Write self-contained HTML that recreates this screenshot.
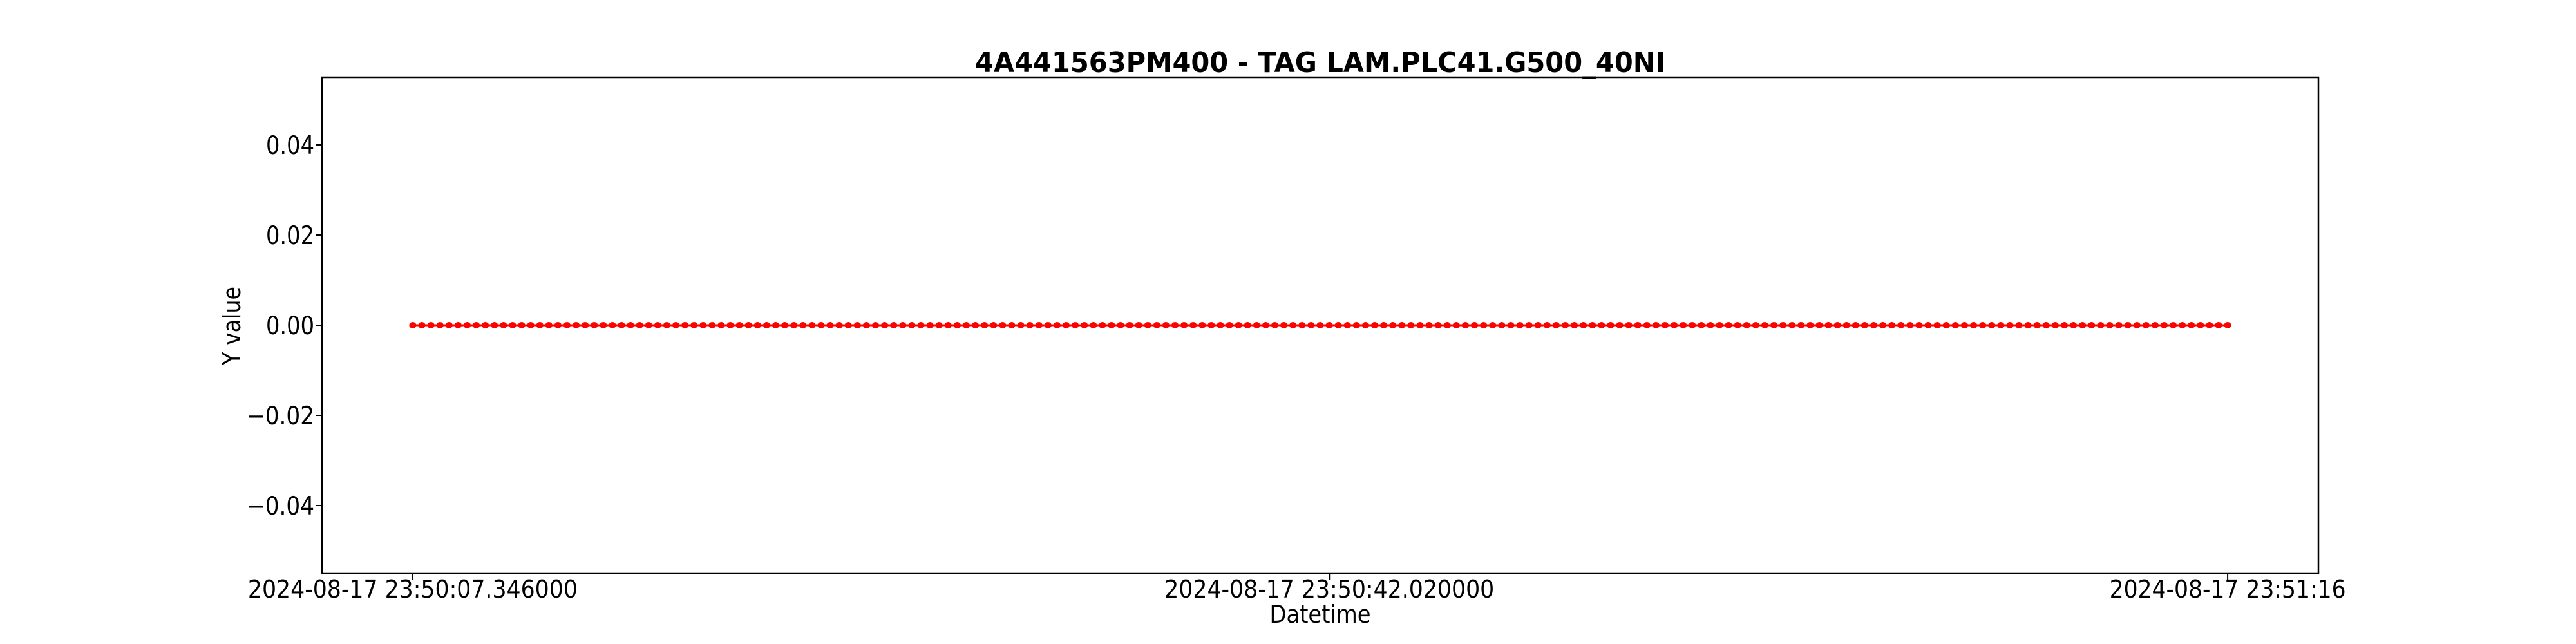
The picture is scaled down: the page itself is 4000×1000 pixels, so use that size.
<!DOCTYPE html>
<html><head><meta charset="utf-8"><style>
html,body{margin:0;padding:0;background:#fff;width:4000px;height:1000px;overflow:hidden}
svg text{font-family:"DejaVu Sans","Liberation Sans",sans-serif;fill:#000}
</style></head><body>
<svg id="chart" width="4000" height="1000" xmlns="http://www.w3.org/2000/svg">
<text x="2050" y="112" font-size="44" font-weight="bold" text-anchor="middle" textLength="1072" lengthAdjust="spacingAndGlyphs">4A441563PM400 - TAG LAM.PLC41.G500_40NI</text>
<g id="plot"></g>
<rect x="500" y="120" width="3100" height="770" fill="none" stroke="#000" stroke-width="2.5"/>
<g id="yticks"></g>
<g id="xticks"></g>
<text x="2050" y="967" font-size="38" text-anchor="middle" textLength="157" lengthAdjust="spacingAndGlyphs">Datetime</text>
<text x="0" y="0" font-size="38" text-anchor="middle" textLength="122" lengthAdjust="spacingAndGlyphs" transform="translate(373,506) rotate(-90)">Y value</text>
</svg>
<script>
// data: seconds after 23:50:00, and Y values
const startSec = 7.346;
const stepSec = 0.34327;
const values = [
0,0,0,0,0,0,0,0,0,0,0,0,0,0,0,0,0,0,0,0,
0,0,0,0,0,0,0,0,0,0,0,0,0,0,0,0,0,0,0,0,
0,0,0,0,0,0,0,0,0,0,0,0,0,0,0,0,0,0,0,0,
0,0,0,0,0,0,0,0,0,0,0,0,0,0,0,0,0,0,0,0,
0,0,0,0,0,0,0,0,0,0,0,0,0,0,0,0,0,0,0,0,
0,0,0,0,0,0,0,0,0,0,0,0,0,0,0,0,0,0,0,0,
0,0,0,0,0,0,0,0,0,0,0,0,0,0,0,0,0,0,0,0,
0,0,0,0,0,0,0,0,0,0,0,0,0,0,0,0,0,0,0,0,
0,0,0,0,0,0,0,0,0,0,0,0,0,0,0,0,0,0,0,0,
0,0,0,0,0,0,0,0,0,0,0,0,0,0,0,0,0,0,0,0,
0];
const times = values.map((v,i)=>startSec + i*stepSec);
const yTickValues = [-0.04,-0.02,0.00,0.02,0.04];
const yTickLabels = ["\u22120.04","\u22120.02","0.00","0.02","0.04"];
const xTickValues = [7.346, 42.020, 76.0];
const xTickLabels = ["2024-08-17 23:50:07.346000","2024-08-17 23:50:42.020000","2024-08-17 23:51:16"];
const xTickWidths = [512,512,367];

const NS="http://www.w3.org/2000/svg";
const L=500,R=3600,T=120,B=890;
const tMin=Math.min(...times), tMax=Math.max(...times);
const pad=(tMax-tMin)*0.05;
const x0=tMin-pad, x1=tMax+pad;
const y0=-0.055, y1=0.055;
const sx=t=>L+(t-x0)/(x1-x0)*(R-L);
const sy=v=>B-(v-y0)/(y1-y0)*(B-T);
function mk(tag,attrs){const e=document.createElementNS(NS,tag);for(const k in attrs)e.setAttribute(k,attrs[k]);return e;}

const plot=document.getElementById('plot');
const line=mk('polyline',{points:times.map((t,i)=>sx(t)+','+sy(values[i])).join(' '),fill:'none',stroke:'#ff0000','stroke-width':3});


plot.appendChild(line);
times.forEach((t,i)=>{
  const c=mk('ellipse',{cx:sx(t),cy:sy(values[i]),rx:5.5,ry:5,fill:'#ff0000'});
  
  
  plot.appendChild(c);
});

const yg=document.getElementById('yticks');
yTickValues.forEach((v,i)=>{
  const y=sy(v);
  const tk=mk('line',{x1:L-10,x2:L,y1:y,y2:y,stroke:'#000','stroke-width':2});
  
  
  yg.appendChild(tk);
  const lab=yTickLabels[i];
  const tx=mk('text',{x:488,y:y+14,'font-size':39,'text-anchor':'end',textLength:lab.length===4?75:105,lengthAdjust:'spacingAndGlyphs'});
  tx.textContent=lab;
  
  
  yg.appendChild(tx);
});

const xg=document.getElementById('xticks');
xTickValues.forEach((t,i)=>{
  const x=sx(t);
  const tk=mk('line',{x1:x,x2:x,y1:B,y2:B+10,stroke:'#000','stroke-width':2});
  
  
  xg.appendChild(tk);
  const tx=mk('text',{x:x,y:928,'font-size':38,'text-anchor':'middle',textLength:xTickWidths[i],lengthAdjust:'spacingAndGlyphs'});
  tx.textContent=xTickLabels[i];
  
  
  xg.appendChild(tx);
});
</script>
</body></html>
